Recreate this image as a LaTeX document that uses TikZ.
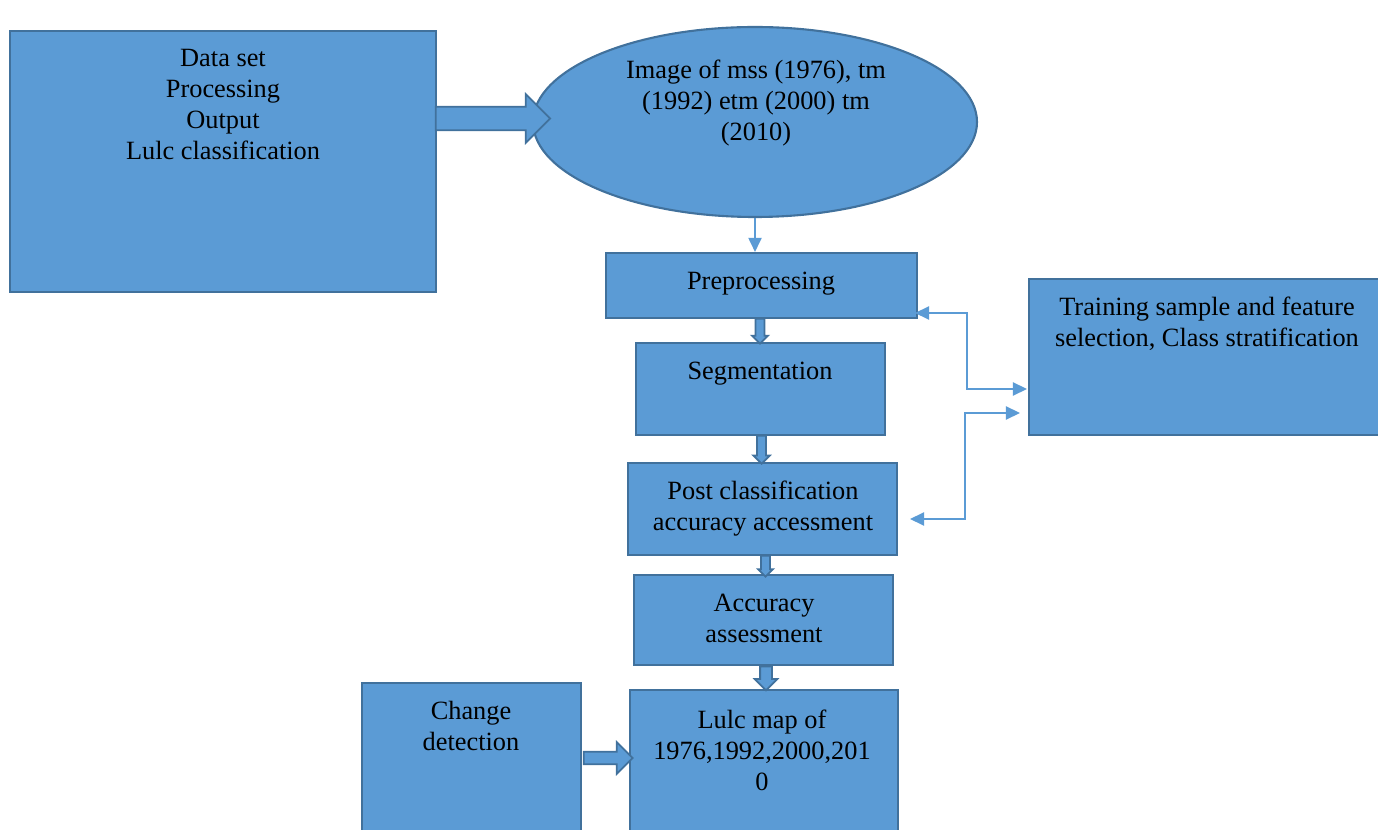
\documentclass[tikz,border=0pt]{standalone}
\usepackage{fontspec}
\setmainfont{Liberation Serif}
\usepackage{tikz}
\usetikzlibrary{arrows.meta, positioning, fit, calc, shapes.geometric, shapes.arrows}
\definecolor{BoxBlue}{HTML}{5B9BD5}
\definecolor{EdgeBlue}{HTML}{41719C}

\begin{document}
\begin{tikzpicture}[
  x=0.02cm, y=-0.02cm,
  box/.style={draw=EdgeBlue, fill=BoxBlue, line width=1.2pt, inner sep=0pt},
  txt/.style={anchor=north, align=center, inner sep=0pt, font=\fontsize{15}{17.6}\selectfont},
  fat/.style={single arrow, draw=EdgeBlue, fill=BoxBlue, line width=1pt, inner xsep=0pt, outer sep=0pt},
  link/.style={draw=BoxBlue, line width=0.85pt},
  >={Triangle[length=8pt, width=7.5pt]}
]
  \useasboundingbox (0,0) rectangle (1378,830);
  \clip (0,0) rectangle (1378,830);

  % boxes
  \node[box, fit={(10,31) (436,292)}] (data) {};
  \node[box, ellipse, minimum width=444*0.02cm, minimum height=190*0.02cm] (img) at (755,122) {};
  \node[box, fit={(606,253) (917,318)}] (pre) {};
  \node[box, fit={(636,343) (885,435)}] (seg) {};
  \node[box, fit={(628,463) (897,555)}] (post) {};
  \node[box, fit={(634,575) (893,665)}] (acc) {};
  \node[box, fit={(630,690) (898,840)}] (map) {};
  \node[box, fit={(362,683) (581,840)}] (change) {};
  \node[box, fit={(1029,279) (1390,435)}] (train) {};

  % texts
  \node[txt] (dataTxt) at (223,49) {Data set\\Processing\\Output\\Lulc classification};
  \node[txt] (imgTxt) at (756,60) {Image of mss (1976), tm\\(1992) etm (2000) tm\\(2010)};
  \node[txt] (preTxt) at (761,272) {Preprocessing};
  \node[txt] (segTxt) at (760,362) {Segmentation};
  \node[txt] (postTxt) at (763,481) {Post classification\\accuracy accessment};
  \node[txt] (accTxt) at (764,594) {Accuracy\\assessment};
  \node[txt] (mapTxt) at (762,710) {Lulc map of\\1976,1992,2000,201\\0};
  \node[txt] (changeTxt) at (471,701) {Change\\detection};
  \node[txt] (trainTxt) at (1207,297) {Training sample and feature\\selection, Class stratification};

  % block arrows
  \node[fat, minimum height=65pt, inner ysep=6.25pt, single arrow head extend=7.1pt] (toImg) at (487,118.5) {};
  \node[fat, rotate=-90, minimum height=14.2pt, inner ysep=2pt, single arrow head extend=2pt] (toSeg) at (760,329) {};
  \node[fat, rotate=-90, minimum height=15.9pt, inner ysep=2.1pt, single arrow head extend=2.1pt] (toPost) at (761.5,447.5) {};
  \node[fat, rotate=-90, minimum height=11.9pt, inner ysep=2pt, single arrow head extend=1.7pt] (toAcc) at (765.5,564) {};
  \node[fat, rotate=-90, minimum height=13.6pt, inner ysep=2.85pt, single arrow head extend=3.1pt] (toMap) at (766,675.5) {};
  \node[fat, minimum height=27.8pt, inner ysep=3.1pt, single arrow head extend=5.4pt] (toMapSide) at (605,758) {};

  % thin connectors
  \draw[link, ->] (img.south) -- (img.south |- pre.north);
  \coordinate (preIn) at (915,313);
  \coordinate (trainInA) at (1027,389);
  \coordinate (trainInB) at (1020,413);
  \coordinate (postIn) at (910,519);
  \draw[link, <->] (preIn) -| (967,389) -- (trainInA);
  \draw[link, <->] (trainInB) -| (965,519) -- (postIn);
\end{tikzpicture}
\end{document}
